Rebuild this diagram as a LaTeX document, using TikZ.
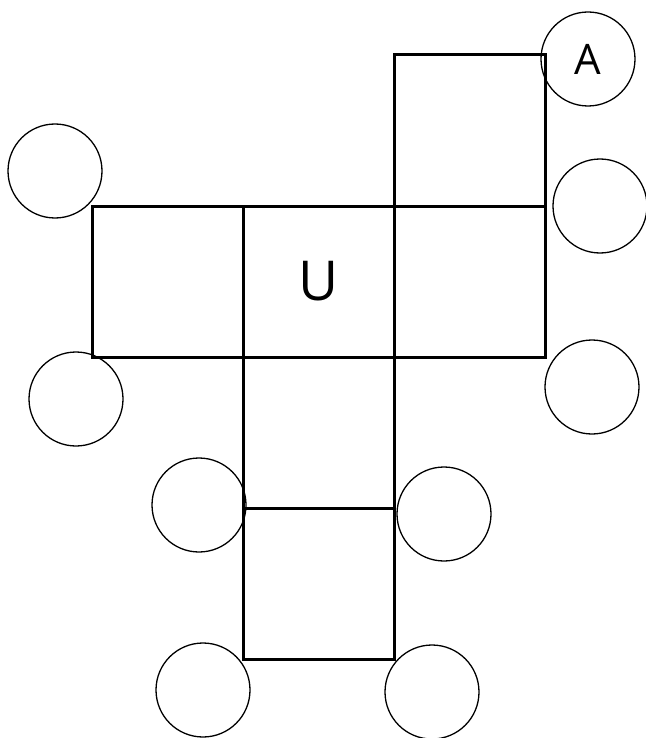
\documentclass[tikz,border=0pt]{standalone}
\usepackage{fontspec}
\setmainfont{Open Sans}
\tikzset{face/.style={draw,line width=3pt,minimum size=151pt,inner sep=0pt,font=\fontsize{55}{55}\selectfont},
  slot/.style={circle,draw,line width=1.3pt,minimum size=94pt,inner sep=0pt,font=\fontsize{42}{42}\selectfont}}
\begin{document}
\begin{tikzpicture}[x=1pt,y=-1pt]
\useasboundingbox (0,0) rectangle (645,738);
% faces of the net
\node[face] (top) at (469.5,130.5) {};
\node[face] (left) at (167.5,281.5) {};
\node[face] (mid) at (318.5,281.5) {U};
\node[face] (right) at (469.5,281.5) {};
\node[face] (low) at (318.5,432.5) {};
\node[face] (bot) at (318.5,583.5) {};
% circles
\node[slot] (cA) at (588,59) {A};
\node[slot] (cNW) at (55,171) {};
\node[slot] (cE) at (600,206) {};
\node[slot] (cSW) at (76,399) {};
\node[slot] (cSE) at (592,387) {};
\node[slot] (cML) at (199,505) {};
\node[slot] (cMR) at (444,514) {};
\node[slot] (cBL) at (203,690) {};
\node[slot] (cBR) at (432,692) {};
\end{tikzpicture}
\end{document}
